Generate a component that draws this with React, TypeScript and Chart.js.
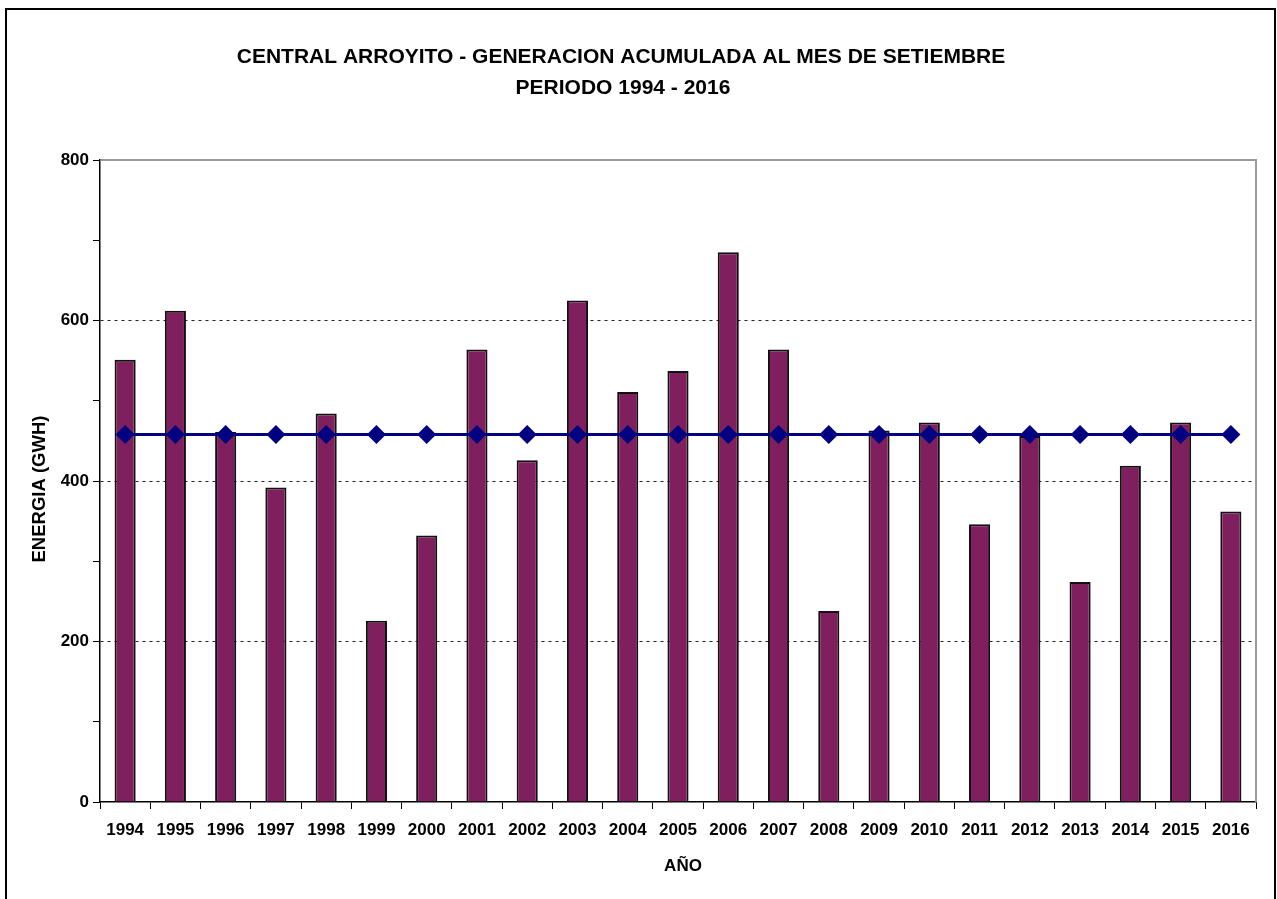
import React, { useEffect, useRef } from "react";
import { Chart, registerables } from "chart.js";

Chart.register(...registerables);

const years = ["1994","1995","1996","1997","1998","1999","2000","2001","2002","2003","2004","2005","2006","2007","2008","2009","2010","2011","2012","2013","2014","2015","2016"];
const energy = [551, 612, 461, 392, 484, 226, 332, 564, 426, 625, 511, 537, 685, 564, 238, 463, 473, 346, 456, 274, 419, 473, 362];
const meanValue = 458;
const meanLine = years.map(() => meanValue);
const yTickLabels = [0, 200, 400, 600, 800];

const titleLine1 = "CENTRAL ARROYITO - GENERACION ACUMULADA AL MES DE SETIEMBRE";
const titleLine2 = "PERIODO 1994 - 2016";
const yTitle = "ENERGIA (GWH)";
const xTitle = "AÑO";

const FONT = "'Liberation Sans', Arial, sans-serif";

const textPlugin = {
  id: "customText",
  afterDraw(chart: any) {
    const ctx = chart.ctx;
    const area = chart.chartArea;
    ctx.save();
    ctx.strokeStyle = "#9a9a9a";
    ctx.lineWidth = 2;
    ctx.beginPath();
    ctx.moveTo(area.left + 1, area.top);
    ctx.lineTo(area.right, area.top);
    ctx.lineTo(area.right, area.bottom);
    ctx.stroke();

    ctx.fillStyle = "#000";
    ctx.textAlign = "center";
    ctx.textBaseline = "middle";
    ctx.font = `bold 21px ${FONT}`;
    ctx.fillText(titleLine1, 621, 57);
    ctx.fillText(titleLine2, 623, 88);

    ctx.font = `bold 17px ${FONT}`;
    ctx.fillText(xTitle, 683, 866);

    ctx.translate(40, 489);
    ctx.rotate(-Math.PI / 2);
    ctx.font = `bold 18.5px ${FONT}`;
    ctx.fillText(yTitle, 0, 0);
    ctx.restore();
  },
};

export default function App() {
  const ref = useRef<HTMLCanvasElement | null>(null);

  useEffect(() => {
    if (!ref.current) return;
    const chart = new Chart(ref.current, {
      type: "bar",
      data: {
        labels: years,
        datasets: [
          {
            type: "line",
            label: "Promedio",
            data: meanLine,
            borderColor: "#000080",
            backgroundColor: "#000080",
            borderWidth: 3,
            pointStyle: "rectRot",
            pointRadius: 9.5,
            pointBorderWidth: 0,
            pointBackgroundColor: "#000080",
            order: 0,
          } as any,
          {
            type: "bar",
            label: "Energía",
            data: energy,
            backgroundColor: "#801f5e",
            borderColor: "#111",
            borderWidth: 2,
            barPercentage: 0.42,
            categoryPercentage: 1,
            order: 1,
          },
        ],
      },
      options: {
        animation: false,
        responsive: true,
        maintainAspectRatio: false,
        layout: { padding: { left: 0, top: 160, right: 21, bottom: 0 } },
        plugins: {
          legend: { display: false },
          tooltip: { enabled: false },
          title: { display: false },
        },
        scales: {
          x: {
            offset: true,
            grid: {
              offset: true,
              display: true,
              drawOnChartArea: false,
              drawTicks: true,
              tickLength: 7,
              tickColor: "#000",
              tickWidth: 1,
            },
            border: { display: true, color: "#000", width: 1.5 },
            ticks: {
              color: "#000",
              font: { family: FONT, size: 17, weight: "bold" },
              padding: 11,
              maxRotation: 0,
              autoSkip: false,
            },
            afterFit: (s: any) => {
              s.height = 97;
            },
          },
          y: {
            min: 0,
            max: 800,
            ticks: {
              stepSize: 100,
              color: "#000",
              font: { family: FONT, size: 17, weight: "bold" },
              padding: 4,
              callback: (v: any) => (yTickLabels.includes(Number(v)) ? String(v) : ""),
            },
            grid: {
              drawTicks: true,
              tickLength: 7,
              tickColor: "#000",
              tickWidth: 1,
              tickBorderDash: [],
              lineWidth: 1,
              color: (c: any) => {
                const v = c.tick ? c.tick.value : -1;
                return v === 200 || v === 400 || v === 600 ? "#222" : "rgba(0,0,0,0)";
              },
            },
            border: { display: true, color: "#000", width: 1.5, dash: [3, 4] },
            afterFit: (s: any) => {
              s.width = 100;
            },
          },
        },
      },
      plugins: [textPlugin],
    });
    return () => chart.destroy();
  }, []);

  return (
    <>
      <div style={{ position: "absolute", left: 0, top: 0, width: 1277, height: 899, background: "#fff" }}>
        <canvas ref={ref} />
      </div>
      <div
        style={{
          position: "absolute",
          left: 5,
          top: 8,
          width: 1271,
          height: 900,
          border: "2px solid #000",
          boxSizing: "border-box",
          pointerEvents: "none",
        }}
      />
    </>
  );
}
